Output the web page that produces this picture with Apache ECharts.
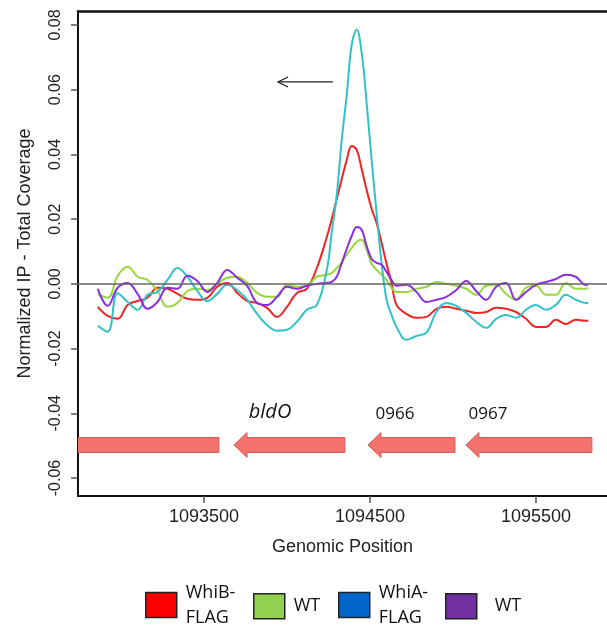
<!DOCTYPE html>
<html lang="en">
<head>
<meta charset="UTF-8">
<title>ChIP coverage around bldO</title>
<script src="https://cdn.jsdelivr.net/npm/echarts@6/dist/echarts.min.js"></script>
<style>html,body{margin:0;padding:0;background:#fff;}</style>
</head>
<body>
<div id="main" style="width:607px;height:631px;"></div>
<script>
// genomic positions shared by the four coverage tracks (finer steps around the peak)
var positions = [
  1092860, 1092920, 1092980, 1093040, 1093100, 1093160, 1093220, 1093280, 1093340, 1093400, 1093460, 1093520,
  1093580, 1093640, 1093700, 1093760, 1093820, 1093880, 1093940, 1094000, 1094060, 1094120, 1094180, 1094240,
  1094270, 1094300, 1094330, 1094360, 1094390, 1094420, 1094450, 1094480, 1094510, 1094540, 1094570, 1094600,
  1094630, 1094660,
  1094720, 1094780, 1094840, 1094900, 1094960, 1095020, 1095080, 1095140, 1095200, 1095260, 1095320, 1095380,
  1095440, 1095500, 1095560, 1095620, 1095680, 1095740, 1095800, 1095815
];
var whiBFlag = [
  -0.0071, -0.0099, -0.0108, -0.0065, -0.0053, -0.0043, -0.0012, -0.0015, -0.0031, -0.0046, -0.0049, -0.0043,
  -0.0009, 0.0003, -0.0028, -0.0053, -0.0059, -0.0074, -0.0102, -0.0071, -0.0028, -0.0015, 0.0049, 0.0145,
  0.0201, 0.0263, 0.0324, 0.0383, 0.0426, 0.0414, 0.0355, 0.0290, 0.0232, 0.0188, 0.0127, 0.0062,
  0.0003, -0.0065,
  -0.0093, -0.0105, -0.0102, -0.0077, -0.0071, -0.0077, -0.0083, -0.0090, -0.0087, -0.0074, -0.0077, -0.0087,
  -0.0108, -0.0133, -0.0133, -0.0111, -0.0124, -0.0111, -0.0114, -0.0114
];
var wtB = [
  -0.0031, -0.0043, 0.0025, 0.0053, 0.0022, 0.0012, -0.0022, -0.0071, -0.0059, -0.0022, -0.0015, -0.0019,
  0.0000, 0.0019, 0.0022, 0.0003, -0.0028, -0.0040, -0.0040, -0.0003, -0.0009, -0.0006, 0.0022, 0.0028,
  0.0034, 0.0049, 0.0065, 0.0090, 0.0111, 0.0130, 0.0136, 0.0105, 0.0062, 0.0043, 0.0028, 0.0012,
  -0.0012, -0.0025,
  -0.0025, -0.0015, -0.0009, 0.0006, 0.0000, -0.0006, -0.0015, -0.0034, -0.0006, -0.0003, -0.0031, -0.0049,
  -0.0012, -0.0006, -0.0034, -0.0034, 0.0003, -0.0015, -0.0015, -0.0012
];
var whiAFlag = [
  -0.0130, -0.0148, -0.0028, -0.0056, -0.0080, -0.0034, -0.0025, 0.0012, 0.0049, 0.0022, -0.0022, -0.0053,
  -0.0031, -0.0003, -0.0019, -0.0049, -0.0093, -0.0127, -0.0145, -0.0142, -0.0117, -0.0080, -0.0065, 0.0043,
  0.0161, 0.0275, 0.0445, 0.0584, 0.0739, 0.0785, 0.0714, 0.0559, 0.0383, 0.0219, 0.0065, -0.0049,
  -0.0096, -0.0133,
  -0.0173, -0.0161, -0.0151, -0.0087, -0.0059, -0.0068, -0.0090, -0.0117, -0.0136, -0.0108, -0.0096, -0.0105,
  -0.0080, -0.0065, -0.0080, -0.0065, -0.0034, -0.0049, -0.0059, -0.0059
];
var wtA = [
  -0.0015, -0.0068, -0.0012, 0.0003, -0.0031, -0.0077, -0.0056, -0.0012, -0.0015, 0.0025, 0.0009, -0.0025,
  0.0003, 0.0043, 0.0019, -0.0006, -0.0059, -0.0065, -0.0040, -0.0009, -0.0015, -0.0006, 0.0000, 0.0003,
  0.0006, 0.0022, 0.0065, 0.0108, 0.0148, 0.0176, 0.0167, 0.0117, 0.0077, 0.0065, 0.0059, 0.0037,
  0.0012, -0.0006,
  -0.0003, -0.0025, -0.0056, -0.0049, -0.0040, -0.0019, 0.0009, -0.0022, -0.0049, -0.0009, 0.0003, -0.0049,
  -0.0025, -0.0003, 0.0006, 0.0015, 0.0028, 0.0022, -0.0003, -0.0003
];

// genes drawn as arrows pointing left (tip, tail)
var geneTip = [1092500, 1093681, 1094488, 1095078];
var geneTail = [1093590, 1094349, 1095012, 1095837];
var geneLevel = -0.0498;
var geneLabels = ['bldO', '0966', '0967'];
var geneLabelX = [1093898, 1094651, 1095211];
var geneLabelY = [-0.0396, -0.0402, -0.0402];

// direction arrow above the peak (from, to)
var arrowX = [1094277, 1093946];
var arrowY = 0.0624;

var xTicks = [1093500, 1094500, 1095500];
var yTicks = [-0.06, -0.04, -0.02, 0.00, 0.02, 0.04, 0.06, 0.08];

var seriesNames = ['WhiB-FLAG', 'WT (WhiB)', 'WhiA-FLAG', 'WT (WhiA)'];
var legendLabels = ['WhiB-\nFLAG', 'WT', 'WhiA-\nFLAG', 'WT'];
var lineColors = ['#ee2424', '#98d83c', '#30c2c8', '#8a2ee0'];
var legendColors = ['#ff0000', '#92d050', '#0066cc', '#7030a0'];
var legendLeft = [145, 253, 338, 445];

var AXIS_FONT = 'Liberation Sans, Arial, sans-serif';
var NOTE_FONT = 'Open Sans, sans-serif';

var chart = echarts.init(document.getElementById('main'));

function pairs(vals) {
  return positions.map(function (p, i) { return [p, vals[i]]; });
}

function renderGene(params, api) {
  var tip = api.coord([api.value(0), api.value(2)]);
  var tail = api.coord([api.value(1), api.value(2)]);
  var y = tip[1];
  var hx = tip[0] + 13;
  return {
    type: 'polygon',
    shape: {
      points: [[tip[0], y], [hx, y - 12.5], [hx, y - 7.5], [tail[0], y - 7.5],
        [tail[0], y + 7.5], [hx, y + 7.5], [hx, y + 12.5]]
    },
    style: { fill: '#f4726e', stroke: '#d65c58', lineWidth: 1 }
  };
}

function renderGeneLabel(params, api) {
  var p = api.coord([api.value(0), api.value(1)]);
  var i = params.dataIndex;
  return {
    type: 'text',
    x: p[0],
    y: p[1],
    style: {
      text: geneLabels[i],
      fontFamily: NOTE_FONT,
      fontSize: i === 0 ? 20 : 17,
      fontStyle: i === 0 ? 'italic' : 'normal',
      fill: '#111',
      align: 'center',
      verticalAlign: 'middle'
    }
  };
}

function renderArrow(params, api) {
  var a = api.coord([api.value(0), api.value(2)]);
  var b = api.coord([api.value(1), api.value(2)]);
  return {
    type: 'group',
    children: [
      { type: 'line', shape: { x1: a[0], y1: a[1], x2: b[0], y2: b[1] }, style: { stroke: '#222', lineWidth: 1.3 } },
      {
        type: 'polyline',
        shape: { points: [[b[0] + 10, b[1] - 5], [b[0], b[1]], [b[0] + 10, b[1] + 5]] },
        style: { stroke: '#222', fill: 'none', lineWidth: 1.3 }
      }
    ]
  };
}

var tracks = [whiBFlag, wtB, whiAFlag, wtA];
var lineSeries = tracks.map(function (vals, i) {
  var s = {
    name: seriesNames[i],
    type: 'line',
    data: pairs(vals),
    smooth: 0.4,
    showSymbol: false,
    lineStyle: { color: lineColors[i], width: 2 },
    itemStyle: { color: lineColors[i] },
    z: 3
  };
  if (i === 0) {
    s.markLine = {
      silent: true,
      symbol: 'none',
      label: { show: false },
      lineStyle: { color: '#666', width: 1.5, type: 'solid' },
      data: [{ yAxis: 0 }]
    };
  }
  return s;
});

var option = {
  animation: false,
  grid: { left: 78, top: 11, right: 0, bottom: 135 },
  legend: seriesNames.map(function (name, i) {
    var twoLines = legendLabels[i].indexOf('\n') >= 0;
    return {
      data: [{
        name: name,
        icon: 'rect',
        itemStyle: { color: legendColors[i], borderColor: '#222', borderWidth: 1.5 }
      }],
      left: legendLeft[i],
      top: twoLines ? 576 : 593,
      padding: 0,
      itemWidth: 31,
      itemHeight: 25,
      selectedMode: false,
      formatter: function () { return legendLabels[i]; },
      textStyle: {
        fontFamily: NOTE_FONT,
        fontSize: 18,
        lineHeight: 25,
        color: '#111',
        padding: twoLines ? [8, 0, 0, 4] : [0, 0, 0, i === 3 ? 13 : 4]
      }
    };
  }),
  xAxis: [{
    type: 'value',
    min: 1092741,
    max: 1095928,
    position: 'bottom',
    name: 'Genomic Position',
    nameLocation: 'middle',
    nameGap: 42,
    nameTextStyle: { fontFamily: AXIS_FONT, fontSize: 18, color: '#222' },
    axisLine: { show: true, onZero: false, lineStyle: { color: '#111', width: 2 } },
    axisTick: { show: true, customValues: xTicks, length: 7, lineStyle: { color: '#555', width: 1.5 } },
    axisLabel: {
      customValues: xTicks,
      fontFamily: AXIS_FONT,
      fontSize: 18,
      color: '#222',
      margin: 12,
      formatter: function (v) { return String(v); }
    },
    splitLine: { show: false }
  }, {
    type: 'value',
    min: 1092741,
    max: 1095928,
    position: 'top',
    axisLine: { show: true, onZero: false, lineStyle: { color: '#111', width: 2.5 } },
    axisTick: { show: false },
    axisLabel: { show: false },
    splitLine: { show: false }
  }],
  yAxis: {
    type: 'value',
    min: -0.06556,
    max: 0.08433,
    name: 'Normalized IP - Total Coverage',
    nameLocation: 'middle',
    nameRotate: 90,
    nameGap: 44,
    nameTextStyle: { fontFamily: AXIS_FONT, fontSize: 18, color: '#222' },
    axisLine: { show: true, onZero: false, lineStyle: { color: '#111', width: 2 } },
    axisTick: { show: true, customValues: yTicks, length: 7, lineStyle: { color: '#555', width: 1.5 } },
    axisLabel: {
      customValues: yTicks,
      rotate: 90,
      fontFamily: AXIS_FONT,
      fontSize: 16,
      color: '#222',
      margin: 14,
      formatter: function (v) { return v.toFixed(2); }
    },
    splitLine: { show: false }
  },
  series: lineSeries.concat([
    {
      type: 'custom',
      name: 'genes',
      clip: true,
      renderItem: renderGene,
      encode: { x: [0, 1], y: 2 },
      data: geneTip.map(function (t, i) { return [t, geneTail[i], geneLevel]; }),
      z: 2
    },
    {
      type: 'custom',
      name: 'geneLabels',
      renderItem: renderGeneLabel,
      encode: { x: 0, y: 1 },
      data: geneLabelX.map(function (x, i) { return [x, geneLabelY[i]]; }),
      z: 4
    },
    {
      type: 'custom',
      name: 'arrow',
      renderItem: renderArrow,
      encode: { x: [0, 1], y: 2 },
      data: [[arrowX[0], arrowX[1], arrowY]],
      z: 4
    }
  ])
};

chart.setOption(option);
</script>
</body>
</html>
